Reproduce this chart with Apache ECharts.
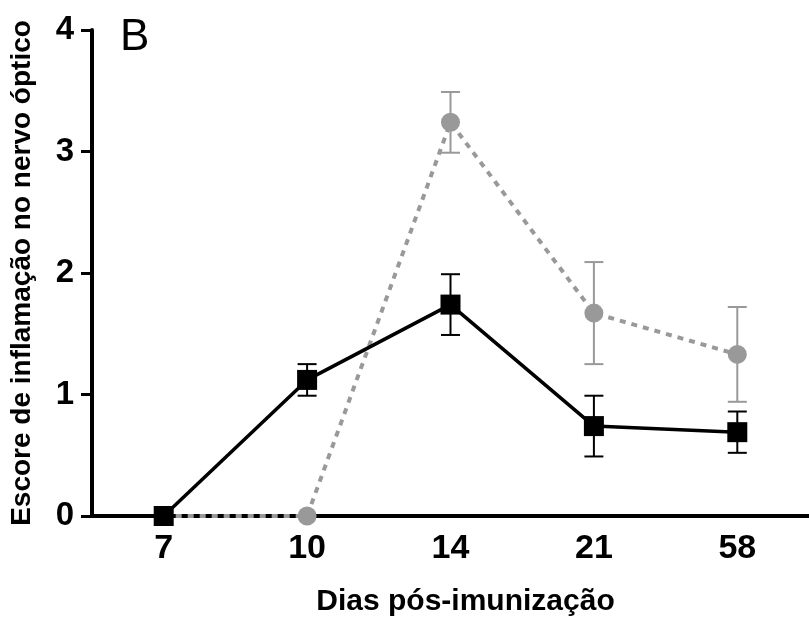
<!DOCTYPE html>
<html><head><meta charset="utf-8">
<script src="https://cdn.jsdelivr.net/npm/echarts@6/dist/echarts.min.js"></script>
<style>html,body{margin:0;padding:0;background:#fff}#c{width:809px;height:622px}</style>
</head><body><div id="c"></div>
<script>
var categories = ['7', '10', '14', '21', '58'];
var blackMean = [0, 1.12, 1.74, 0.74, 0.69];
var blackErr  = [0, 0.13, 0.25, 0.25, 0.17];
var grayMean  = [0, 0, 3.24, 1.67, 1.33];
var grayErr   = [0, 0, 0.25, 0.42, 0.39];
var yTicks = [0, 1, 2, 3, 4];

function errData(mean, err) {
  var out = [];
  for (var i = 0; i < mean.length; i++) {
    if (err[i] > 0) out.push([i, mean[i] - err[i], mean[i] + err[i]]);
  }
  return out;
}
function errSeries(mean, err, color, z) {
  return {
    type: 'custom', z: z, silent: true,
    data: errData(mean, err),
    renderItem: function (params, api) {
      var lo = api.coord([api.value(0), api.value(1)]);
      var hi = api.coord([api.value(0), api.value(2)]);
      var hw = 9.5;
      var st = { stroke: color, lineWidth: 2 };
      return { type: 'group', children: [
        { type: 'line', shape: { x1: hi[0], y1: hi[1], x2: lo[0], y2: lo[1] }, style: st },
        { type: 'line', shape: { x1: hi[0] - hw, y1: hi[1], x2: hi[0] + hw, y2: hi[1] }, style: st },
        { type: 'line', shape: { x1: lo[0] - hw, y1: lo[1], x2: lo[0] + hw, y2: lo[1] }, style: st }
      ]};
    },
    encode: { x: 0, y: [1, 2] }
  };
}

var chart = echarts.init(document.getElementById('c'), null, { renderer: 'canvas' });
var font = 'Liberation Sans, Arial, sans-serif';
chart.setOption({
  animation: false,
  backgroundColor: '#ffffff',
  grid: { left: 92, right: 0, top: 30, bottom: 104 },
  graphic: [{ type: 'text', left: 120, top: 16, style: { text: 'B', font: '44px ' + font, fill: '#000' } }],
  xAxis: {
    type: 'category', data: categories, boundaryGap: true,
    axisLine: { lineStyle: { color: '#000', width: 4 } },
    axisTick: { alignWithLabel: true, length: 8, lineStyle: { color: '#000', width: 3 } },
    axisLabel: { color: '#000', fontSize: 34, fontWeight: 'bold', fontFamily: font, margin: 16 },
    name: 'Dias pós-imunização', nameLocation: 'middle', nameGap: 71,
    nameTextStyle: { color: '#000', fontSize: 30, fontWeight: 'bold', fontFamily: font, padding: [0, 0, 0, 30] }
  },
  yAxis: {
    type: 'value', min: yTicks[0], max: yTicks[yTicks.length - 1], interval: 1,
    splitLine: { show: false },
    axisLine: { show: true, lineStyle: { color: '#000', width: 4 } },
    axisTick: { show: true, length: 11, lineStyle: { color: '#000', width: 3 } },
    axisLabel: { color: '#000', fontSize: 33, fontWeight: 'bold', fontFamily: font, margin: 18 },
    name: 'Escore de inflamação no nervo óptico', nameLocation: 'middle', nameGap: 56,
    nameTextStyle: { color: '#000', fontSize: 28, fontWeight: 'bold', fontFamily: font }
  },
  series: [
    errSeries(grayMean, grayErr, '#999999', 3),
    {
      type: 'line', data: grayMean, z: 4,
      symbol: 'circle', symbolSize: 19,
      itemStyle: { color: '#999999' },
      lineStyle: { color: '#999999', width: 4, type: [6, 6] }
    },
    errSeries(blackMean, blackErr, '#000000', 5),
    {
      type: 'line', data: blackMean, z: 6,
      symbol: 'rect', symbolSize: 20,
      itemStyle: { color: '#000000' },
      lineStyle: { color: '#000000', width: 3.5 }
    }
  ]
});
</script></body></html>
